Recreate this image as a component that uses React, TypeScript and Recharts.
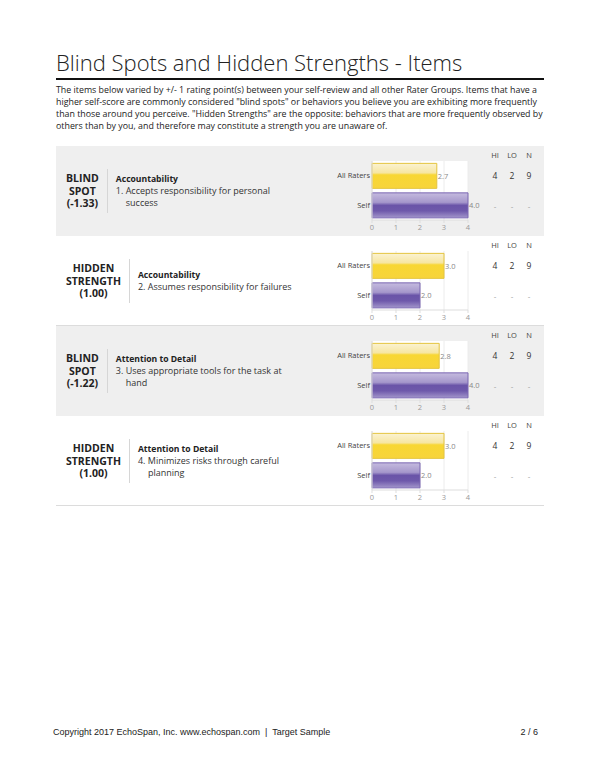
import { Bar, BarChart, CartesianGrid, Cell, LabelList, XAxis, YAxis } from "recharts";

const raterGroups = ["All Raters", "Self"];
const labelTitles = ["BLIND SPOT", "HIDDEN STRENGTH", "BLIND SPOT", "HIDDEN STRENGTH"];
const labelGaps = ["(-1.33)", "(1.00)", "(-1.22)", "(1.00)"];
const competencies = ["Accountability", "Accountability", "Attention to Detail", "Attention to Detail"];
const itemLines = [
  ["1. Accepts responsibility for personal", "success"],
  ["2. Assumes responsibility for failures"],
  ["3. Uses appropriate tools for the task at", "hand"],
  ["4. Minimizes risks through careful", "planning"],
];
const allRatersScores = [2.7, 3.0, 2.8, 3.0];
const selfScores = [4.0, 2.0, 4.0, 2.0];
const hiValues = [4, 4, 4, 4];
const loValues = [2, 2, 2, 2];
const nValues = [9, 9, 9, 9];
const xTicks = [0, 1, 2, 3, 4];

const introLines = [
  "The items below varied by +/- 1 rating point(s) between your self-review and all other Rater Groups. Items that have a",
  'higher self-score are commonly considered "blind spots" or behaviors you believe you are exhibiting more frequently',
  'than those around you perceive. "Hidden Strengths" are the opposite: behaviors that are more frequently observed by',
  "others than by you, and therefore may constitute a strength you are unaware of.",
];

const FONT = '"Open Sans", "Noto Sans", sans-serif';
const SECTION_TOP = 146;
const SECTION_H = 90;
const Y_AXIS_W = 64;

function GroupTick({ x, y, payload }: any) {
  return (
    <text x={x + 6} y={y} dy="0.35em" textAnchor="end" fill="#444" fontSize={7.5} fontFamily={FONT}>
      {payload.value}
    </text>
  );
}

function ItemChart({ i }: { i: number }) {
  const data = raterGroups.map((group, k) => ({
    group,
    score: k === 0 ? allRatersScores[i] : selfScores[i],
  }));
  const goldId = `gold-${i}`;
  const purpleId = `purple-${i}`;

  return (
    <BarChart
      width={Y_AXIS_W + 96 + 32}
      height={73}
      data={data}
      layout="vertical"
      margin={{ top: 2, right: 32, bottom: 0, left: 0 }}
      barCategoryGap="8%"
    >
      <defs>
        <linearGradient id={goldId} x1="0" x2="0" y1="0" y2="1">
          <stop offset="0%" stopColor="#fbf3d2" />
          <stop offset="38%" stopColor="#f6e6a2" />
          <stop offset="46%" stopColor="#f8d733" />
          <stop offset="100%" stopColor="#f7d43c" />
        </linearGradient>
        <linearGradient id={purpleId} x1="0" x2="0" y1="0" y2="1">
          <stop offset="0%" stopColor="#c5bbdf" />
          <stop offset="38%" stopColor="#a597cb" />
          <stop offset="50%" stopColor="#6a54a8" />
          <stop offset="72%" stopColor="#6e59ab" />
          <stop offset="100%" stopColor="#a396cb" />
        </linearGradient>
      </defs>
      <CartesianGrid fill="#ffffff" stroke="#ececec" horizontal={false} />
      <XAxis
        type="number"
        domain={[0, 4]}
        ticks={xTicks}
        height={12}
        tick={{ fill: "#999", fontSize: 7.5, fontFamily: FONT }}
        tickSize={3}
        tickMargin={2}
        axisLine={{ stroke: "#dddddd" }}
        tickLine={{ stroke: "#dddddd" }}
      />
      <YAxis
        type="category"
        dataKey="group"
        width={Y_AXIS_W}
        tick={<GroupTick />}
        tickLine={false}
        axisLine={{ stroke: "#dddddd" }}
      />
      <Bar dataKey="score" isAnimationActive={false}>
        {data.map((d) => (
          <Cell
            key={d.group}
            fill={d.group === "Self" ? `url(#${purpleId})` : `url(#${goldId})`}
            stroke={d.group === "Self" ? "#7a67b2" : "#e4c43e"}
          />
        ))}
        <LabelList
          dataKey="score"
          position="right"
          offset={1}
          formatter={(v: any) => Number(v).toFixed(1)}
          style={{ fill: "#888", fontSize: 7.5, fontFamily: FONT }}
        />
      </Bar>
    </BarChart>
  );
}

function Section({ i }: { i: number }) {
  const grey = i % 2 === 0;
  const top = SECTION_TOP + i * SECTION_H;
  return (
    <div
      style={{
        position: "absolute",
        left: 56,
        top,
        width: 488,
        height: SECTION_H,
        background: grey ? "#efefef" : "#ffffff",
        borderBottom: grey ? "none" : "1px solid #dcdcdc",
        boxSizing: "border-box",
        fontFamily: FONT,
      }}
    >
      <div
        style={{
          position: "absolute",
          left: 10,
          top: 0,
          height: SECTION_H,
          display: "flex",
          alignItems: "center",
        }}
      >
        <div
          style={{
            width: "min-content",
            textAlign: "center",
            fontWeight: 700,
            fontSize: 10.5,
            lineHeight: "12.5px",
            color: "#222",
            paddingRight: 8,
          }}
        >
          {labelTitles[i]} {labelGaps[i]}
        </div>
        <div
          style={{
            borderLeft: "1px solid #d6d6d6",
            paddingLeft: 8,
            height: 44,
            display: "flex",
            flexDirection: "column",
            justifyContent: "center",
          }}
        >
          <div style={{ fontWeight: 700, fontSize: 8.6, lineHeight: "12px", color: "#222" }}>{competencies[i]}</div>
          {itemLines[i].map((line, k) => (
            <div key={k} style={{ fontSize: 9, lineHeight: "12px", color: "#333", paddingLeft: k === 0 ? 0 : 10 }}>
              {line}
            </div>
          ))}
        </div>
      </div>

      <div style={{ position: "absolute", left: 372 - 56 - Y_AXIS_W, top: 13 }}>
        <ItemChart i={i} />
      </div>

      {[
        ["HI", hiValues[i]],
        ["LO", loValues[i]],
        ["N", nValues[i]],
      ].map(([head, val], k) => (
        <div
          key={String(head)}
          style={{ position: "absolute", left: 429 + k * 17, width: 20, top: 3, textAlign: "center", color: "#444" }}
        >
          <div style={{ fontSize: 7.5, lineHeight: "12px" }}>{head}</div>
          <div style={{ fontSize: 8.5, lineHeight: "12px", marginTop: 9, color: "#333" }}>{val}</div>
          <div style={{ fontSize: 8, lineHeight: "12px", marginTop: 18, color: "#999" }}>-</div>
        </div>
      ))}
    </div>
  );
}

export default function App() {
  return (
    <div style={{ position: "absolute", left: 0, top: 0, width: 600, height: 776, background: "#fff", fontFamily: FONT }}>
      <div
        style={{
          position: "absolute",
          left: 56,
          top: 47,
          width: 488,
          fontSize: 22,
          fontWeight: 300,
          color: "#222",
          lineHeight: "31px",
          borderBottom: "2px solid #111",
        }}
      >
        Blind Spots and Hidden Strengths - Items
      </div>
      <div
        style={{
          position: "absolute",
          left: 56,
          top: 84,
          width: 500,
          fontSize: 8.85,
          lineHeight: "12px",
          color: "#222",
          whiteSpace: "nowrap",
        }}
      >
        {introLines.map((line, k) => (
          <div key={k}>{line}</div>
        ))}
      </div>

      {labelTitles.map((_, i) => (
        <Section key={i} i={i} />
      ))}

      <div
        style={{
          position: "absolute",
          left: 53,
          top: 727,
          width: 485,
          fontFamily: '"Liberation Sans", Arial, sans-serif',
          fontSize: 9,
          color: "#222",
          display: "flex",
          justifyContent: "space-between",
        }}
      >
        <span>Copyright 2017 EchoSpan, Inc. www.echospan.com&nbsp; |&nbsp; Target Sample</span>
        <span>2 / 6</span>
      </div>
    </div>
  );
}
